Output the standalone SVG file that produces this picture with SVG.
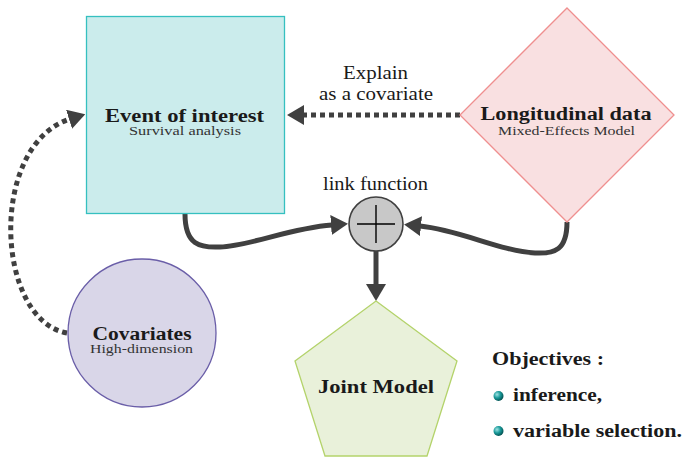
<svg xmlns="http://www.w3.org/2000/svg" width="685" height="457" viewBox="0 0 685 457">
<defs>
<marker id="ah" markerUnits="userSpaceOnUse" markerWidth="17" markerHeight="20" viewBox="0 0 17 20" refX="1" refY="10" orient="auto">
<path d="M0,0 L17,10 L0,20 z" fill="#404040"/>
</marker>
<radialGradient id="ball" cx="0.35" cy="0.35" r="0.7">
<stop offset="0" stop-color="#9fe3e3"/>
<stop offset="0.5" stop-color="#1a9a9a"/>
<stop offset="1" stop-color="#004d4d"/>
</radialGradient>
</defs>

<g id="connectors" fill="none" stroke="#404040" stroke-width="5">
<path stroke-dasharray="5 4" d="M460,115 L303,115" marker-end="url(#ah)"/>
<path stroke-dasharray="5 4" d="M67,333 C-5,320 -12,145 70,119" marker-end="url(#ah)"/>
<path d="M185,214 C185,245 200,248 220,247 C250,246 290,228 332,225" marker-end="url(#ah)"/>
<path d="M567,222 C567,250 555,254 535,253 C500,251 460,230 420,226" marker-end="url(#ah)"/>
<path d="M376,251 L376,285" marker-end="url(#ah)"/>
</g>

<g id="event">
<rect x="86.5" y="16.5" width="198" height="197" fill="#cbecec" stroke="#35c0c0" stroke-width="1.3"/>
<text x="184.5" y="122" font-family="Liberation Serif" font-weight="bold" fill="#1a1a1a" font-size="18" text-anchor="middle" textLength="159" lengthAdjust="spacingAndGlyphs">Event of interest</text>
<text x="185" y="135" font-family="Liberation Serif" fill="#333333" font-size="12.5" text-anchor="middle" textLength="112" lengthAdjust="spacingAndGlyphs">Survival analysis</text>
</g>

<g id="longitudinal">
<polygon points="567,8 674,115 567,222 460,115" fill="#f9e0e1" stroke="#ef8f8f" stroke-width="1.3"/>
<text x="566" y="120" font-family="Liberation Serif" font-weight="bold" fill="#1a1a1a" font-size="18" text-anchor="middle" textLength="171" lengthAdjust="spacingAndGlyphs">Longitudinal data</text>
<text x="566.5" y="134.5" font-family="Liberation Serif" fill="#333333" font-size="12.5" text-anchor="middle" textLength="137" lengthAdjust="spacingAndGlyphs">Mixed-Effects Model</text>
</g>

<g id="explain-label">
<text x="375.5" y="79" font-family="Liberation Serif" fill="#1a1a1a" font-size="18" text-anchor="middle" textLength="65" lengthAdjust="spacingAndGlyphs">Explain</text>
<text x="376" y="100" font-family="Liberation Serif" fill="#1a1a1a" font-size="18" text-anchor="middle" textLength="114" lengthAdjust="spacingAndGlyphs">as a covariate</text>
</g>

<g id="link">
<text x="375.5" y="190" font-family="Liberation Serif" fill="#1a1a1a" font-size="18" text-anchor="middle" textLength="105" lengthAdjust="spacingAndGlyphs">link function</text>
<circle cx="376" cy="224" r="27" fill="#c8c8c8" stroke="#404040" stroke-width="1.6"/>
<path d="M357,224 H395 M376,205 V243" stroke="#000" stroke-width="1.4"/>
</g>

<g id="covariates">
<circle cx="142" cy="333" r="74" fill="#d9d6e8" stroke="#6a5ea8" stroke-width="1.3"/>
<text x="142" y="340" font-family="Liberation Serif" font-weight="bold" fill="#1a1a1a" font-size="18" text-anchor="middle" textLength="99" lengthAdjust="spacingAndGlyphs">Covariates</text>
<text x="141.5" y="353" font-family="Liberation Serif" fill="#333333" font-size="12.5" text-anchor="middle" textLength="103" lengthAdjust="spacingAndGlyphs">High-dimension</text>
</g>

<g id="joint">
<polygon points="376,301 457,361 427,456 325,456 295,361" fill="#e9f1da" stroke="#b4d36b" stroke-width="1.3"/>
<text x="376" y="393" font-family="Liberation Serif" font-weight="bold" fill="#1a1a1a" font-size="18" text-anchor="middle" textLength="116" lengthAdjust="spacingAndGlyphs">Joint Model</text>
</g>

<g id="objectives">
<text x="492" y="365" font-family="Liberation Serif" font-weight="bold" fill="#1a1a1a" font-size="18" textLength="112" lengthAdjust="spacingAndGlyphs">Objectives :</text>
<circle cx="498.5" cy="396" r="5" fill="url(#ball)"/>
<text x="513" y="401" font-family="Liberation Serif" font-weight="bold" fill="#1a1a1a" font-size="18" textLength="89" lengthAdjust="spacingAndGlyphs">inference,</text>
<circle cx="498.5" cy="431" r="5" fill="url(#ball)"/>
<text x="513" y="437" font-family="Liberation Serif" font-weight="bold" fill="#1a1a1a" font-size="18" textLength="169" lengthAdjust="spacingAndGlyphs">variable selection.</text>
</g>
</svg>
